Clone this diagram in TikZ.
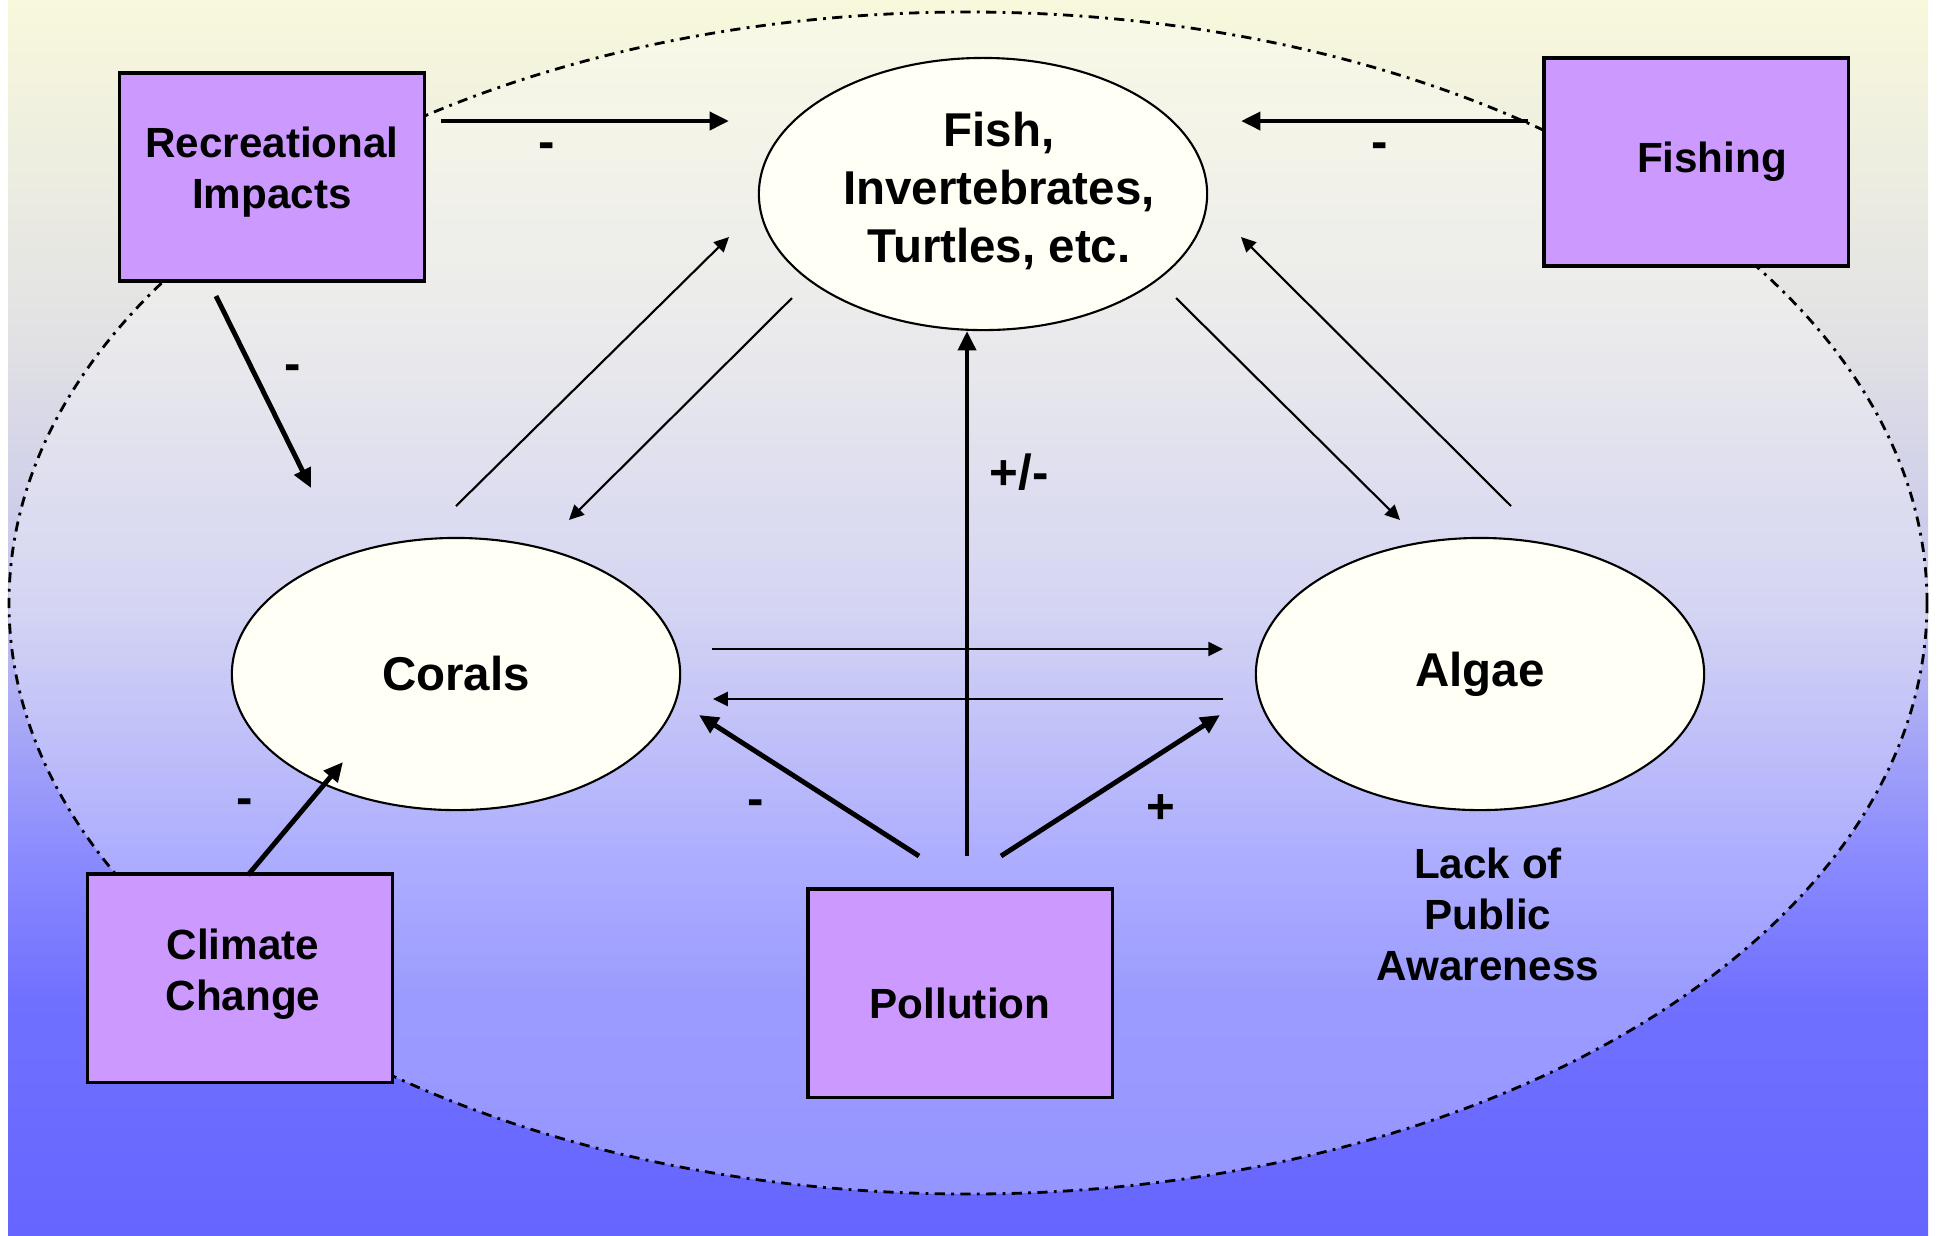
\documentclass[tikz,border=0pt]{standalone}
\usepackage{fontspec}
\setmainfont{Liberation Sans}
\usetikzlibrary{shapes.geometric,arrows.meta}

\definecolor{skytop}{RGB}{248,248,220}
\definecolor{skygrey}{RGB}{226,226,228}
\definecolor{skylav}{RGB}{196,196,238}
\definecolor{skymid}{RGB}{140,140,255}
\definecolor{skylow}{RGB}{112,112,255}
\definecolor{skybot}{RGB}{102,102,255}
\definecolor{driverfill}{RGB}{204,153,255}
\definecolor{groupfill}{RGB}{255,255,245}

\pgfdeclareverticalshading{reefsky}{100bp}{color(0bp)=(skybot); color(25bp)=(skybot);
  color(34.5bp)=(skylow); color(40.6bp)=(skymid); color(50.7bp)=(skylav);
  color(61.6bp)=(skygrey); color(75bp)=(skytop); color(100bp)=(skytop)}

\tikzset{
  driver/.style={rectangle, draw=black, line width=0.9pt, fill=driverfill,
    minimum width=3.04cm, minimum height=2.08cm},
  drivertext/.style={align=center, inner sep=0pt, font=\bfseries\fontsize{12}{14.5}\selectfont},
  group/.style={ellipse, draw=black, line width=0.6pt, fill=groupfill, inner sep=0pt,
    minimum width=4.48cm, minimum height=2.72cm, align=center,
    font=\bfseries\fontsize{13.5}{16.6}\selectfont},
  effect/.style={-{Triangle[length=5.5pt,width=5pt]}, line width=1.4pt},
  link/.style={-{Triangle[length=4.2pt,width=4pt]}, line width=0.6pt},
  sign/.style={font=\bfseries\fontsize{14}{16}\selectfont, inner sep=0pt}
}

\begin{document}
\begin{tikzpicture}[x=0.01cm, y=-0.01cm]
\useasboundingbox (0,0) rectangle (1937,1235);
\shade[shading=reefsky] (8,0) rectangle (1928,1235);
\fill[white, opacity=0.3] (968,603) ellipse [x radius=959, y radius=591];
\draw[line width=0.8pt, dash pattern=on 2.9pt off 1.8pt on 0.8pt off 1.8pt]
  (968,603) ellipse [x radius=959, y radius=591];

\node (rec) at (272,177) [driver] {};
\node (fishing) at (1696,162) [driver] {};
\node (climate) at (240,978) [driver] {};
\node (pollution) at (960,993) [driver] {};
\node (rectext) at (272,172) [drivertext] {Recreational\\Impacts};
\node (fishingtext) at (1712,162) [drivertext] {Fishing};
\node (climatetext) at (243,974) [drivertext] {Climate\\Change};
\node (pollutiontext) at (960,1003) [drivertext] {Pollution};

\node (fish) at (983,194) [group] {};
\node (fishtext) at (999,191) [group, draw=none, fill=none, minimum width=0pt, minimum height=0pt, shape=rectangle] {Fish,\\Invertebrates,\\Turtles, etc.};
\node (corals) at (456,674) [group] {Corals};
\node (algae) at (1480,674) [group] {Algae};
\node (aware) at (1488,914) [drivertext] {Lack of\\Public\\Awareness};

\coordinate (rf0) at (441,121); \coordinate (rf1) at (729,121);
\coordinate (ff0) at (1528,121); \coordinate (ff1) at (1241,121);
\coordinate (rc0) at (216,296); \coordinate (rc1) at (311,488);
\coordinate (cc0) at (248,875); \coordinate (cc1) at (343,762);
\coordinate (pc0) at (919,856); \coordinate (pc1) at (699,715);
\coordinate (pa0) at (1001,856); \coordinate (pa1) at (1220,715);
\coordinate (pf0) at (967,856); \coordinate (pf1) at (967,331);
\coordinate (ca0) at (712,649); \coordinate (ca1) at (1223,649);
\coordinate (ac0) at (1223,699); \coordinate (ac1) at (713,699);
\coordinate (cf0) at (456,506); \coordinate (cf1) at (729,237);
\coordinate (fc0) at (792,298); \coordinate (fc1) at (569,520);
\coordinate (fa0) at (1176,298); \coordinate (fa1) at (1400,520);
\coordinate (af0) at (1511,506); \coordinate (af1) at (1241,237);

\draw[effect] (rf0) -- (rf1);
\draw[effect] (ff0) -- (ff1);
\draw[effect] (rc0) -- (rc1);
\draw[effect] (cc0) -- (cc1);
\draw[effect] (pc0) -- (pc1);
\draw[effect] (pa0) -- (pa1);
\draw[effect] (pf0) -- (pf1);
\draw[link] (ca0) -- (ca1);
\draw[link] (ac0) -- (ac1);
\draw[link] (cf0) -- (cf1);
\draw[link] (fc0) -- (fc1);
\draw[link] (fa0) -- (fa1);
\draw[link] (af0) -- (af1);

\node (s1) at (547,151) [sign] {-};
\node (s2) at (1380,151) [sign] {-};
\node (s3) at (293,373) [sign] {-};
\node (s4) at (245,807) [sign] {-};
\node (s5) at (756,808) [sign] {-};
\node (s6) at (1161,809) [sign] {+};
\node (s7) at (1019,472) [sign] {+/-};
\end{tikzpicture}
\end{document}
